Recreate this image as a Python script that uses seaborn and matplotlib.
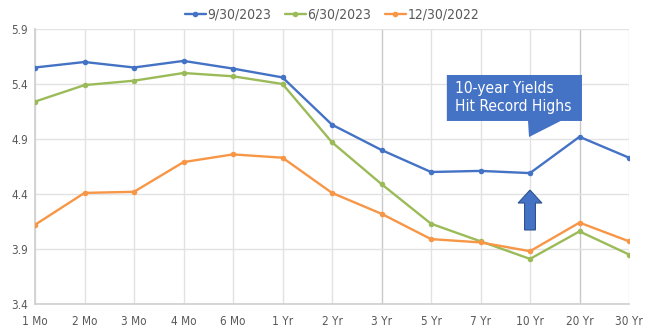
import matplotlib
matplotlib.use("Agg")
import matplotlib.pyplot as plt
import seaborn as sns
import pandas as pd
from matplotlib.patches import Polygon

categories = ["1 Mo", "2 Mo", "3 Mo", "4 Mo", "6 Mo", "1 Yr", "2 Yr", "3 Yr", "5 Yr", "7 Yr", "10 Yr", "20 Yr", "30 Yr"]
sep_2023 = [5.55, 5.60, 5.55, 5.61, 5.54, 5.46, 5.03, 4.80, 4.60, 4.61, 4.59, 4.92, 4.73]
jun_2023 = [5.24, 5.39, 5.43, 5.50, 5.47, 5.40, 4.87, 4.49, 4.13, 3.97, 3.81, 4.06, 3.85]
dec_2022 = [4.12, 4.41, 4.42, 4.69, 4.76, 4.73, 4.41, 4.22, 3.99, 3.96, 3.88, 4.14, 3.97]
series_names = ["9/30/2023", "6/30/2023", "12/30/2022"]
colors = ["#4472C4", "#9BBB59", "#F79646"]
yticks = [3.4, 3.9, 4.4, 4.9, 5.4, 5.9]
note = "10-year Yields\nHit Record Highs"

sns.set_theme(style="white")
plt.rcParams['font.family'] = ['DejaVu Sans']

rows = []
for name, vals in zip(series_names, [sep_2023, jun_2023, dec_2022]):
    for c, v in zip(categories, vals):
        rows.append({"Tenor": c, "Yield": v, "Series": name})
df = pd.DataFrame(rows)
df["Tenor"] = pd.Categorical(df["Tenor"], categories=categories, ordered=True)
df["x"] = df["Tenor"].cat.codes

fig = plt.figure(figsize=(6.55, 3.34), dpi=100)
ax = fig.add_axes([35 / 655, 1 - 304 / 334, (629 - 35) / 655, (304 - 29) / 334])

sns.lineplot(data=df, x="x", y="Yield", hue="Series", hue_order=series_names,
             palette=colors, marker="o", markersize=4, markeredgewidth=0,
             linewidth=1.7, ax=ax, sort=False, zorder=3)

ax.set_xlim(0, len(categories) - 1)
ax.set_ylim(3.4, 5.9)
ax.set_xticks(range(len(categories)))
ax.set_xticklabels(categories, fontstretch='condensed')
ax.set_yticks(yticks)
ax.set_yticklabels([f"{t:.1f}" for t in yticks], fontstretch='condensed')
ax.tick_params(axis='x', labelsize=8.5, colors="#595959", length=0, pad=8)
ax.tick_params(axis='y', labelsize=8.5, colors="#595959", length=0, pad=5)
ax.set_xlabel("")
ax.set_ylabel("")

for i in range(len(categories)):
    col = "#C8C8C8" if categories[i] in ("3 Yr", "20 Yr") else "#E2E2E2"
    ax.axvline(i, color=col, linewidth=1, zorder=1)
for t in yticks:
    ax.axhline(t, color="#E2E2E2", linewidth=1, zorder=1)

for s in ax.spines.values():
    s.set_visible(False)
ax.spines['bottom'].set_visible(True)
ax.spines['bottom'].set_color("#D0D0D0")
ax.spines['left'].set_visible(True)
ax.spines['left'].set_color("#D0D0D0")

# callout box
box = Polygon([(8.32, 5.482), (11.05, 5.482), (11.05, 5.064), (10.62, 5.064),
               (9.98, 4.918), (9.96, 5.064), (8.32, 5.064)],
              closed=True, facecolor="#4472C4", edgecolor="none", zorder=5)
ax.add_patch(box)
ax.text(8.48, 5.273, note, color="white", fontsize=11.2, va="center", ha="left",
        linespacing=1.25, fontstretch='condensed', zorder=6)

# up arrow
hw, sw = 0.24, 0.11
arrow = Polygon([(10, 4.436), (10 + hw, 4.318), (10 + sw, 4.318), (10 + sw, 4.073),
                 (10 - sw, 4.073), (10 - sw, 4.318), (10 - hw, 4.318)],
                closed=True, facecolor="#4472C4", edgecolor="#2F528F", linewidth=0.8, zorder=5)
ax.add_patch(arrow)

handles, labels = ax.get_legend_handles_labels()
ax.legend(handles, labels, loc="lower center", bbox_to_anchor=(0.5, 1.0), ncol=3,
          frameon=False, handlelength=1.5, columnspacing=1.0,
          handletextpad=0.1, labelcolor="#595959", borderaxespad=0.15,
          prop={'stretch': 'condensed', 'size': 10})

fig.savefig("out.png", dpi=100)
